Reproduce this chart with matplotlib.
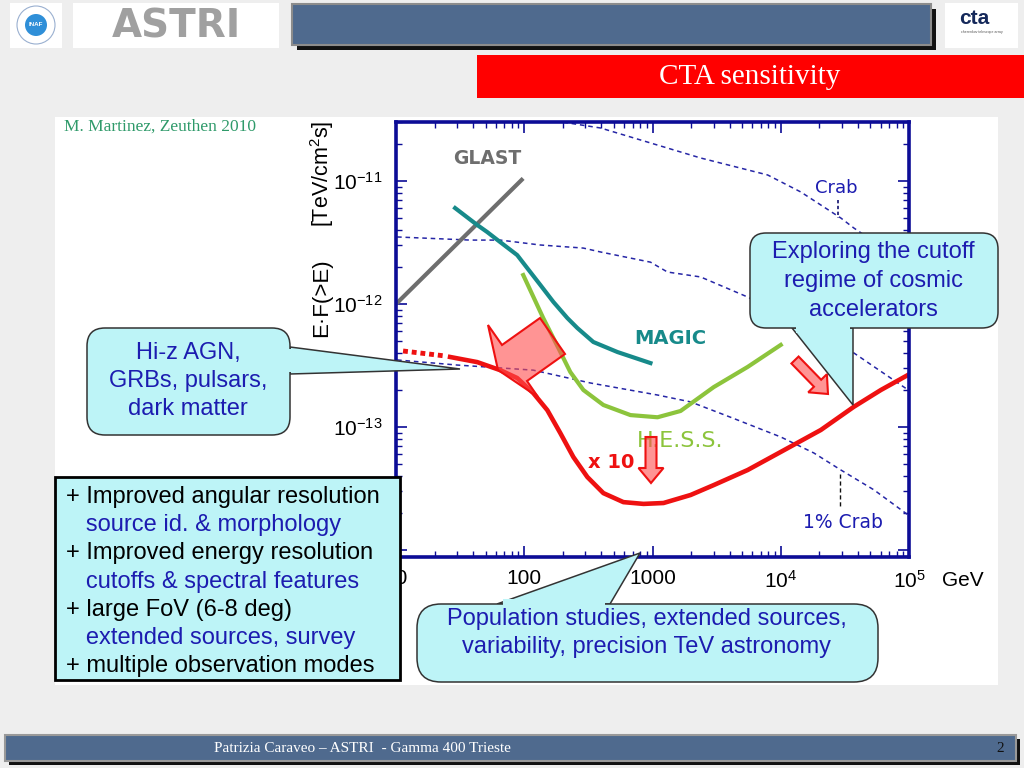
import numpy as np
import matplotlib.pyplot as plt
from matplotlib.patches import Rectangle, FancyBboxPatch, Polygon, Circle
from matplotlib.ticker import LogLocator, FixedLocator, FuncFormatter, NullFormatter

plt.rcParams['font.family'] = ['Liberation Sans', 'DejaVu Sans']
plt.rcParams['mathtext.default'] = 'regular'

# energies in GeV, E*F(>E) in TeV/cm2/s
glast_e = [10, 98]
glast_f = [1.0e-12, 1.05e-11]

magic_e = [28.9, 43.0, 51.4, 64.9, 88.1, 105.5, 133.4, 168.7, 216.8, 259.4, 345.9, 533, 964]
magic_f = [6.03e-12, 4.39e-12, 3.85e-12, 3.19e-12, 2.50e-12, 1.96e-12, 1.43e-12, 1.04e-12,
           7.69e-13, 6.38e-13, 4.91e-13, 4.07e-13, 3.31e-13]

hess_e = [98.2, 140.6, 184.5, 228.6, 289, 414, 673, 1094, 1656, 3000, 5521, 10000]
hess_f = [1.72e-12, 7.69e-13, 4.39e-13, 2.8e-13, 2.0e-13, 1.51e-13, 1.25e-13, 1.2e-13,
          1.35e-13, 2.11e-13, 3.08e-13, 4.65e-13]

cta_low_e = [11.35, 24.2]
cta_low_f = [4.15e-13, 3.78e-13]
cta_e = [26.4, 43.0, 64.9, 88.1, 117.5, 151.4, 191, 241.5, 310.5, 414, 593, 851, 1219,
         1982, 3000, 5521, 10000, 20540, 37150, 60390, 98200]
cta_f = [3.71e-13, 3.37e-13, 2.90e-13, 2.50e-13, 1.89e-13, 1.37e-13, 8.93e-14, 5.70e-14,
         3.92e-14, 2.90e-14, 2.45e-14, 2.37e-14, 2.41e-14, 2.80e-14, 3.37e-14, 4.47e-14,
         6.27e-14, 9.46e-14, 1.46e-13, 2.0e-13, 2.65e-13]

crab_e = [150, 174.6, 393, 2371, 7907, 14320, 29440, 37150, 103800]
crab_f = [3.2e-11, 3.08e-11, 2.70e-11, 1.54e-11, 1.12e-11, 8.15e-12, 5.0e-12, 4.15e-12, 2.0e-12]

crab10_e = [10.2, 37.8, 64.9, 133, 289, 393, 964, 1309, 2371, 5521, 14320, 37150, 91410, 103800]
crab10_f = [3.51e-12, 3.31e-12, 3.31e-12, 3.02e-12, 2.85e-12, 2.65e-12, 2.19e-12, 1.82e-12,
            1.66e-12, 1.14e-12, 6.75e-13, 4.0e-13, 2.11e-13, 1.93e-13]

crab1_e = [10.2, 30, 117.5, 328, 1094, 1982, 4064, 10000, 18110, 29440, 53330, 98200]
crab1_f = [3.51e-13, 3.19e-13, 2.90e-13, 2.28e-13, 1.82e-13, 1.60e-13, 1.20e-13, 8.30e-14,
           6.15e-14, 4.47e-14, 3.08e-14, 1.93e-14]

x_ticks = [10, 100, 1000, 1e4, 1e5]
y_ticks = [1e-14, 1e-13, 1e-12, 1e-11]

bullets = [("+ Improved angular resolution", 'black'),
           ("   source id. & morphology", 'blue'),
           ("+ Improved energy resolution", 'black'),
           ("   cutoffs & spectral features", 'blue'),
           ("+ large FoV (6-8 deg)", 'black'),
           ("   extended sources, survey", 'blue'),
           ("+ multiple observation modes", 'black')]

W, H = 1024, 768
navy = '#0c0c96'
tblue = '#1c1cb0'
cyan = '#bdf4f7'
bar = '#4f6a8e'

fig = plt.figure(figsize=(10.24, 7.68), dpi=100)
fig.patch.set_facecolor('#eeeeee')


def px(x0, y0, x1, y1):
    return [x0 / W, 1 - y1 / H, (x1 - x0) / W, (y1 - y0) / H]


# background layer in pixel coordinates
bg = fig.add_axes([0, 0, 1, 1], zorder=0)
bg.set_xlim(0, W)
bg.set_ylim(H, 0)
bg.axis('off')

bg.add_patch(Rectangle((55, 117), 943, 568, fc='white', ec='none'))

# header
bg.add_patch(Rectangle((10, 3), 52, 45, fc='white', ec='none'))
bg.add_patch(Circle((36, 25), 19, fc='none', ec='#9ab0d0', lw=0.8))
bg.add_patch(Circle((36, 25), 11, fc='#2f8fd8', ec='none'))
bg.text(36, 25, 'INAF', color='white', fontsize=4.5, fontweight='bold', ha='center', va='center')
bg.add_patch(Rectangle((73, 3), 206, 45, fc='white', ec='none'))
bg.text(176, 26, 'ASTRI', color='#a0a0a0', fontsize=28, fontweight='bold',
        ha='center', va='center', family='DejaVu Sans')
bg.add_patch(Rectangle((297, 9), 639, 41, fc='#111111', ec='none'))
bg.add_patch(Rectangle((292, 4), 639, 41, fc=bar, ec='#8c8c8c', lw=1.5))
bg.add_patch(Rectangle((945, 3), 73, 45, fc='white', ec='none'))
bg.text(974, 18, 'cta', color='#14285a', fontsize=15, fontweight='bold', ha='center', va='center')
bg.text(982, 32, 'cherenkov telescope array', color='#555555', fontsize=2.5, ha='center', va='center')

bg.add_patch(Rectangle((477, 55), 547, 43, fc='#ff0000', ec='none'))
bg.text(750, 77, 'CTA sensitivity', color='white', fontsize=21, ha='center', va='center',
        family='Liberation Serif')

bg.text(64, 127, 'M. Martinez, Zeuthen 2010', color='#2f9a6a', fontsize=12.5,
        ha='left', va='center', family='Liberation Serif')

# footer
bg.add_patch(Rectangle((9, 739), 1011, 26, fc='#111111', ec='none'))
bg.add_patch(Rectangle((5, 735), 1011, 26, fc=bar, ec='#999999', lw=1.5))
bg.text(214, 748, 'Patrizia Caraveo – ASTRI  - Gamma 400 Trieste', color='white',
        fontsize=11, ha='left', va='center', family='Liberation Serif')
bg.text(1000, 748, '2', color='#111111', fontsize=11, ha='center', va='center',
        family='Liberation Serif')

# main plot
ax = fig.add_axes(px(396, 122, 909, 557), zorder=1)
ax.set_xscale('log')
ax.set_yscale('log')
ax.set_xlim(10, 1e5)
ax.set_ylim(10 ** -14.057, 10 ** -10.52)

dash = dict(color='#2626a6', lw=1.1, dashes=(3, 2.5))
ax.plot(crab_e, crab_f, **dash)
ax.plot(crab10_e, crab10_f, **dash)
ax.plot(crab1_e, crab1_f, **dash)

ax.plot(glast_e, glast_f, color='#6e6e6e', lw=3, solid_capstyle='butt')
ax.plot(magic_e, magic_f, color='#178a8a', lw=3)
ax.plot(hess_e, hess_f, color='#8cc43c', lw=3)
ax.plot(cta_low_e, cta_low_f, color='#ee1111', lw=3.5, ls=(0, (1, 0.8)))
ax.plot(cta_e, cta_f, color='#ee1111', lw=3.3)

for s in ax.spines.values():
    s.set_color(navy)
    s.set_linewidth(2.6)
ax.xaxis.set_major_locator(FixedLocator(x_ticks))
ax.yaxis.set_major_locator(FixedLocator(y_ticks))
ax.xaxis.set_minor_locator(LogLocator(base=10, subs=np.arange(2, 10), numticks=20))
ax.yaxis.set_minor_locator(LogLocator(base=10, subs=np.arange(2, 10), numticks=20))
ax.xaxis.set_minor_formatter(NullFormatter())
ax.yaxis.set_minor_formatter(NullFormatter())


def xfmt(v, pos):
    n = int(round(np.log10(v)))
    return str(10 ** n) if n <= 3 else '$10^{%d}$' % n


def yfmt(v, pos):
    n = int(round(np.log10(v)))
    # the 10^-14 label sits under the text box on the slide
    return '' if n < -13 else '$10^{%d}$' % n


ax.xaxis.set_major_formatter(FuncFormatter(xfmt))
ax.yaxis.set_major_formatter(FuncFormatter(yfmt))
ax.tick_params(which='both', direction='in', top=True, right=True, color=navy, labelsize=15)
ax.tick_params(which='major', length=8, width=1.2)
ax.tick_params(which='minor', length=4.5, width=1)
ax.tick_params(axis='y', pad=10)
ax.tick_params(axis='x', pad=9)

# overlay layer in pixel coordinates
ov = fig.add_axes([0, 0, 1, 1], zorder=2)
ov.set_xlim(0, W)
ov.set_ylim(H, 0)
ov.axis('off')
ov.patch.set_alpha(0)

ov.text(322, 298, 'E·F(>E)', rotation=90, fontsize=16, ha='center', va='center')
ov.text(322, 174, '[TeV/cm$^2$s]', rotation=90, fontsize=15.5, ha='center', va='center')
ov.text(963, 580, 'GeV', fontsize=15, ha='center', va='center')

lab = dict(family='DejaVu Sans', ha='center', va='center')
ov.text(487, 158, 'GLAST', color='#6e6e6e', fontsize=13.5, fontweight='bold', **lab)
ov.text(670, 338, 'MAGIC', color='#178a8a', fontsize=14, fontweight='bold', **lab)
ov.text(680, 441, 'H.E.S.S.', color='#8cc43c', fontsize=16, **lab)
ov.text(611, 463, 'x 10', color='#ee1111', fontsize=14, fontweight='bold', **lab)
ov.text(836, 188, 'Crab', color=tblue, fontsize=13, **lab)
ov.text(843, 523, '1% Crab', color=tblue, fontsize=13.5, **lab)
ov.plot([838, 838], [200, 218], color='#101070', lw=1.2, dashes=(2, 1.5))
ov.plot([840, 840], [474, 507], color='#101010', lw=1, dashes=(3, 2))


def block_arrow(x0, y0, x1, y1, w, hw, hl):
    d = np.array([x1 - x0, y1 - y0], float)
    L = np.hypot(*d)
    d /= L
    n = np.array([-d[1], d[0]])
    p0 = np.array([x0, y0], float)
    b = p0 + d * (L - hl)
    pts = [p0 + n * w / 2, b + n * w / 2, b + n * hw / 2, p0 + d * L,
           b - n * hw / 2, b - n * w / 2, p0 - n * w / 2]
    return pts


afc = (1, 0.3, 0.3, 0.6)
ov.add_patch(Polygon([(488, 325), (502, 345), (540, 318), (565, 354), (527, 381),
                      (538, 397), (498, 370)], closed=True, fc=afc, ec='#ee1111', lw=1.5, zorder=3))
ov.add_patch(Polygon(block_arrow(651, 437, 651, 483, 11, 25, 15), closed=True,
                     fc=afc, ec='#ee1111', lw=1.5, zorder=3))
ov.add_patch(Polygon(block_arrow(795, 360, 828, 394, 10, 26, 15), closed=True,
                     fc=afc, ec='#ee1111', lw=1.5, zorder=3))


def callout(x0, y0, x1, y1, ptr, cover, r):
    ov.add_patch(Polygon(ptr, closed=True, fc=cyan, ec='#333333', lw=1.1, zorder=4))
    ov.add_patch(FancyBboxPatch((x0 + r, y0 + r), x1 - x0 - 2 * r, y1 - y0 - 2 * r,
                                boxstyle='round,pad=%g' % r, fc=cyan, ec='#333333',
                                lw=1.1, zorder=5))
    ov.add_patch(Polygon(cover, closed=True, fc=cyan, ec='none', zorder=6))


callout(87, 328, 290, 435, [(290, 347), (460, 369), (290, 374)],
        [(285, 349), (295, 349), (295, 372), (285, 372)], 18)
for i, t in enumerate(['Hi-z AGN,', 'GRBs, pulsars,', 'dark matter']):
    ov.text(188, 353 + 28 * i, t, color=tblue, fontsize=17, ha='center', va='center', zorder=7)

callout(750, 233, 998, 328, [(792, 328), (853, 405), (853, 328)],
        [(796, 323), (850, 323), (850, 333), (796, 333)], 16)
for i, t in enumerate(['Exploring the cutoff', 'regime of cosmic', 'accelerators']):
    ov.text(873, 252 + 29 * i, t, color=tblue, fontsize=17, ha='center', va='center', zorder=7)

callout(417, 604, 878, 682, [(497, 604), (640, 553), (610, 604)],
        [(503, 599), (605, 599), (605, 609), (503, 609)], 24)
for i, t in enumerate(['Population studies, extended sources,',
                       'variability, precision TeV astronomy']):
    ov.text(647, 619 + 28 * i, t, color=tblue, fontsize=17, ha='center', va='center', zorder=7)

ov.add_patch(Rectangle((55, 477), 345, 203, fc=cyan, ec='black', lw=2, zorder=5))
for i, (t, c) in enumerate(bullets):
    ov.text(66, 497 + 28.2 * i, t, color='black' if c == 'black' else tblue,
            fontsize=17, ha='left', va='center', zorder=7)

fig.savefig('out.png', dpi=100, facecolor=fig.get_facecolor())
